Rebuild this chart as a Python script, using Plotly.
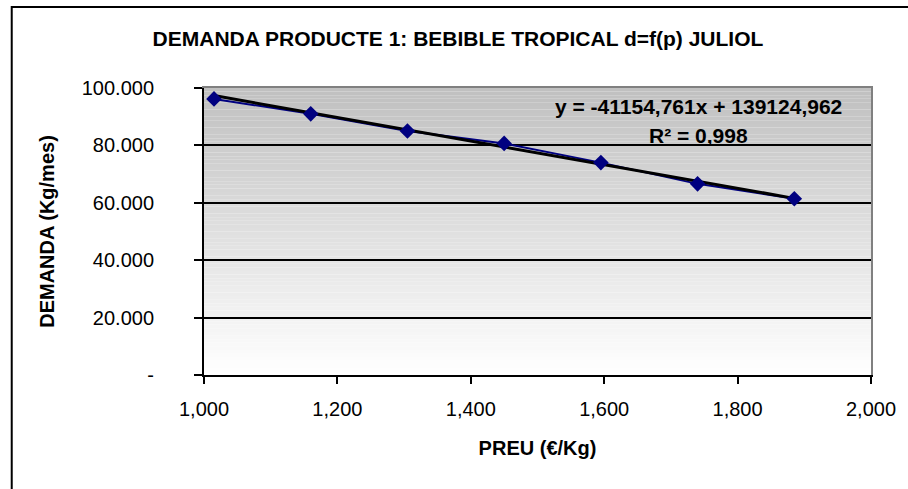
import plotly.graph_objects as go

# ---- data ----
price = [1.015, 1.160, 1.305, 1.450, 1.595, 1.740, 1.885]          # €/Kg
demand = [96200, 91000, 85000, 80700, 74000, 66600, 61400]         # Kg/mes
slope = -41154.761
intercept = 139124.962
eq_text = "y = -41154,761x + 139124,962"
r2_text = "R² = 0,998"

x_ticks = [1.0, 1.2, 1.4, 1.6, 1.8, 2.0]
x_ticktext = ["1,000", "1,200", "1,400", "1,600", "1,800", "2,000"]
y_ticks = [0, 20000, 40000, 60000, 80000, 100000]
y_ticktext = ["-", "20.000", "40.000", "60.000", "80.000", "100.000"]

title = "DEMANDA PRODUCTE 1: BEBIBLE TROPICAL d=f(p) JULIOL"
x_title = "PREU (€/Kg)"
y_title = "DEMANDA (Kg/mes)"

FONT = "Liberation Sans, Arial, sans-serif"

trend_x = [price[0], price[-1]]
trend_y = [slope * v + intercept for v in trend_x]

fig = go.Figure()
# data series line (navy, mostly hidden by trendline)
fig.add_trace(go.Scatter(x=price, y=demand, mode="lines",
                         line=dict(color="#000080", width=2),
                         showlegend=False, hoverinfo="skip"))
# linear trendline
fig.add_trace(go.Scatter(x=trend_x, y=trend_y, mode="lines",
                         line=dict(color="black", width=3),
                         showlegend=False, hoverinfo="skip"))
# markers
fig.add_trace(go.Scatter(x=price, y=demand, mode="markers",
                         marker=dict(symbol="diamond", size=12, color="#000080"),
                         showlegend=False))
# invisible trace to activate the top/right border axes
fig.add_trace(go.Scatter(x=[1.5], y=[50000], mode="markers", xaxis="x2", yaxis="y2",
                         marker=dict(opacity=0), showlegend=False, hoverinfo="skip"))

# gradient plot background (gray at top -> white at bottom)
shapes = []
n = 80
for i in range(n):
    f = i / (n - 1)
    c = int(round(192 + (255 - 192) * (1 - f)))
    shapes.append(dict(type="rect", xref="x domain", yref="y domain",
                       x0=0, x1=1, y0=i / n, y1=(i + 1) / n,
                       fillcolor=f"rgb({c},{c},{c})", line=dict(width=0),
                       layer="below"))
# outer chart border
shapes.append(dict(type="rect", xref="paper", yref="paper",
                   x0=(10 - 204) / 673, x1=2.0, y0=-2.0, y1=(375 - 7) / 287,
                   line=dict(color="black", width=2), fillcolor="rgba(0,0,0,0)",
                   layer="below"))

fig.update_layout(
    width=908, height=489,
    margin=dict(l=204, r=31, t=88, b=114),
    paper_bgcolor="white", plot_bgcolor="white",
    font=dict(family=FONT, size=20, color="black"),
    shapes=shapes,
    title=dict(text=f"<b>{title}</b>", xref="container", yref="container",
               x=458 / 908, y=1 - 39 / 489, xanchor="center", yanchor="middle",
               font=dict(family=FONT, size=21, color="black")),
    xaxis=dict(range=[1.0, 2.0], tickvals=x_ticks, ticktext=x_ticktext,
               showline=True, linecolor="black", linewidth=2,
               ticks="outside", ticklen=7, tickwidth=2, tickcolor="black",
               ticklabelstandoff=8,
               showgrid=False, zeroline=False,
               title=dict(text=f"<b>{x_title}</b>", standoff=22,
                          font=dict(family=FONT, size=20))),
    yaxis=dict(range=[0, 100000], tickvals=y_ticks, ticktext=y_ticktext,
               showline=True, linecolor="black", linewidth=2,
               ticks="outside", ticklen=8, tickwidth=2, tickcolor="black",
               ticklabelstandoff=36,
               showgrid=True, gridcolor="black", gridwidth=1.5, zeroline=False,
               title=dict(text=f"<b>{y_title}</b>", standoff=22,
                          font=dict(family=FONT, size=20))),
    xaxis2=dict(overlaying="x", side="top", range=[1.0, 2.0], showline=True,
                linecolor="#808080", linewidth=2, showticklabels=False,
                ticks="", showgrid=False, zeroline=False),
    yaxis2=dict(overlaying="y", side="right", range=[0, 100000], showline=True,
                linecolor="#808080", linewidth=2, showticklabels=False,
                ticks="", showgrid=False, zeroline=False),
    annotations=[
        dict(text=f"<b>{eq_text}</b>", xref="paper", yref="paper",
             x=(703 - 204) / 673, y=(375 - 106) / 287, xanchor="center",
             yanchor="middle", showarrow=False,
             font=dict(family=FONT, size=21, color="black")),
        dict(text=f"<b>{r2_text}</b>", xref="paper", yref="paper",
             x=(703 - 204) / 673, y=(375 - 135) / 287, xanchor="center",
             yanchor="middle", showarrow=False,
             font=dict(family=FONT, size=21, color="black")),
    ],
)

fig.write_html("out.html", config={"displayModeBar": False},
               post_script="document.body.style.margin='0';")
